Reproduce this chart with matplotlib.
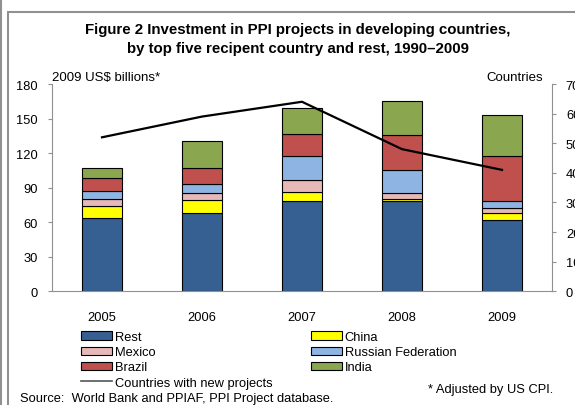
import matplotlib.pyplot as plt
import matplotlib.patches as mpatches
from matplotlib.lines import Line2D
import numpy as np

plt.rcParams["font.family"] = ["Liberation Sans", "DejaVu Sans"]

years = ["2005", "2006", "2007", "2008", "2009"]
rest = [63.6, 67.7, 78.1, 78.1, 61.6]
china = [10.2, 11.6, 7.9, 2.3, 6.1]
mexico = [6.3, 5.8, 10.6, 4.7, 4.4]
russia = [6.7, 8.3, 20.6, 20.2, 6.0]
brazil = [11.6, 13.4, 19.7, 30.7, 39.1]
india = [8.7, 24.0, 22.5, 29.0, 36.2]
countries = [52, 59, 64, 48, 41]

series = [
    ("Rest", rest, "#376092"),
    ("China", china, "#FFFF00"),
    ("Mexico", mexico, "#E6B9B8"),
    ("Russian Federation", russia, "#8EB4E3"),
    ("Brazil", brazil, "#C0504D"),
    ("India", india, "#8AA64E"),
]

W, H = 575, 406
fs = 9.3
fig = plt.figure(figsize=(W / 100, H / 100), dpi=100)

# frame around the figure
fig.add_artist(Line2D([1 / W, 1 / W], [0, 1], color="#909090", lw=1.5))
fig.add_artist(mpatches.Rectangle((8 / W, -0.1), 1.2, 1 - 12.5 / H + 0.1,
                                  transform=fig.transFigure, fill=False,
                                  ec="#909090", lw=1.5))

ax = fig.add_axes([52 / W, 1 - 292.3 / H, 500 / W, 207.3 / H])
x = np.arange(len(years))
bottom = np.zeros(len(years))
handles = {}
for name, vals, col in series:
    b = ax.bar(x, vals, 0.4, bottom=bottom, color=col, edgecolor="black",
               linewidth=0.8, label=name, zorder=2)
    handles[name] = b
    bottom += np.array(vals)

ax.set_xlim(-0.5, 4.5)
ax.set_ylim(0, 180)
ax.set_yticks(range(0, 181, 30))
ax.set_xticks(x)
ax.set_xticklabels(years)
ax.tick_params(axis="x", length=0, pad=14, labelsize=fs)
ax.tick_params(axis="y", length=3, color="#909090", pad=7, labelsize=fs)
for s in ["top", "right"]:
    ax.spines[s].set_visible(False)
for s in ["left", "bottom"]:
    ax.spines[s].set_color("#909090")

ax2 = ax.twinx()
ln, = ax2.plot(x, countries, color="black", lw=1.6, zorder=3,
               label="Countries with new projects")
ax2.set_ylim(0, 70)
ax2.set_yticks(range(0, 71, 10))
ax2.tick_params(axis="y", length=3, color="#909090", pad=7, labelsize=fs)
for s in ["top", "left", "bottom"]:
    ax2.spines[s].set_visible(False)
ax2.spines["right"].set_color("#909090")

fig.text(298 / W, 1 - 30 / H, "Figure 2 Investment in PPI projects in developing countries,",
         ha="center", va="center", fontsize=10.8, fontweight="bold")
fig.text(298 / W, 1 - 49 / H, "by top five recipent country and rest, 1990\u20132009",
         ha="center", va="center", fontsize=10.8, fontweight="bold")
fig.text(52 / W, 1 - 78 / H, "2009 US$ billions*", ha="left", va="center", fontsize=9.5)
fig.text(543 / W, 1 - 78 / H, "Countries", ha="right", va="center", fontsize=9.5)

line_handle = Line2D([], [], color="#555555", lw=1.2)
order = [handles["Rest"], handles["Mexico"], handles["Brazil"], line_handle,
         handles["China"], handles["Russian Federation"], handles["India"]]
labels = ["Rest", "Mexico", "Brazil", "Countries with new projects",
          "China", "Russian Federation", "India"]
fig.legend(order, labels, ncol=2, loc="upper left",
           bbox_to_anchor=(81 / W, 1 - 332 / H), frameon=False, fontsize=fs,
           handlelength=2.4, handleheight=0.6, handletextpad=0.2,
           labelspacing=0.25, columnspacing=3.0, borderaxespad=0, borderpad=0)

fig.text(553 / W, 1 - 390 / H, "* Adjusted by US CPI.", ha="right", va="center", fontsize=fs)
fig.text(20 / W, 1 - 399 / H, "Source:  World Bank and PPIAF, PPI Project database.",
         ha="left", va="center", fontsize=fs)

fig.savefig("out.png", dpi=100)
